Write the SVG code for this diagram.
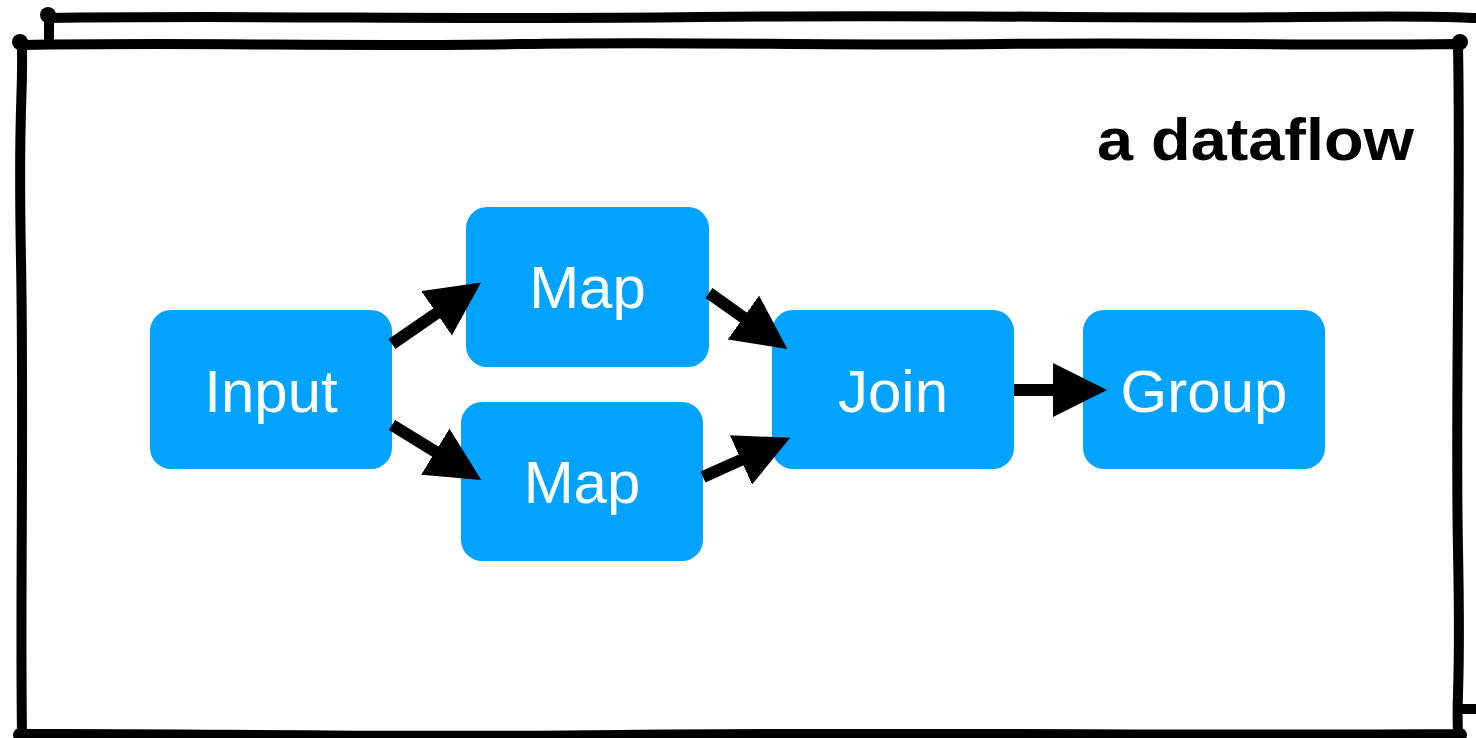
<svg xmlns="http://www.w3.org/2000/svg" width="1476" height="738" viewBox="0 0 1476 738">
  <style>
    .frame { fill: #ffffff; stroke: #000000; stroke-width: 10; stroke-linejoin: round; stroke-linecap: round; }
    .blob { fill: #000000; }
    .node rect { fill: #02a2ff; }
    .node text { fill: #ffffff; font-family: "Liberation Sans", Arial, Helvetica, sans-serif; font-size: 60px; text-anchor: middle; }
    .title { fill: #000000; font-family: "Liberation Sans", Arial, Helvetica, sans-serif; font-size: 60px; font-weight: bold; text-anchor: end; }
    .edge { stroke: #000000; stroke-width: 12; fill: none; marker-end: url(#head); }
  </style>
  <defs>
    <marker id="head" viewBox="0 0 54 54" markerWidth="54" markerHeight="54" refX="2" refY="27" orient="auto" markerUnits="userSpaceOnUse">
      <path d="M0,0 L54,27 L0,54 Z" fill="#000000"/>
    </marker>
  </defs>
  <rect width="1476" height="738" fill="#ffffff"/>

  <g id="frame">
    <path class="frame" d="M49,18 C 250,15 450,20 700,17 S 1100,19 1300,17 S 1450,19 1495,18 L1495,709 L49,709 Z"/>
    <circle class="blob" cx="48" cy="15" r="8"/>
    <path class="frame" d="M22,45 C 200,42 350,47 520,44 S 820,46 1000,44 S 1300,46 1458,44 C 1461,200 1455,400 1458,550 S 1456,690 1458,734 C 1200,736 900,732 620,735 S 200,733 22,734 C 20,600 24,420 21,260 S 23,110 22,45 Z"/>
    <circle class="blob" cx="20" cy="42" r="8"/>
    <circle class="blob" cx="1460" cy="42" r="8"/>
    <circle class="blob" cx="1460" cy="735" r="7"/>
    <circle class="blob" cx="20" cy="735" r="7"/>
  </g>

  <text class="title" x="1414" y="160" textLength="317" lengthAdjust="spacingAndGlyphs">a dataflow</text>

  <g id="node-input" class="node">
    <rect x="150" y="310" width="242" height="159" rx="21"/>
    <text x="271" y="412">Input</text>
  </g>
  <g id="node-map1" class="node">
    <rect x="466" y="207" width="243" height="160" rx="21"/>
    <text x="587.5" y="308">Map</text>
  </g>
  <g id="node-map2" class="node">
    <rect x="461" y="402" width="242" height="159" rx="21"/>
    <text x="582" y="503">Map</text>
  </g>
  <g id="node-join" class="node">
    <rect x="772" y="310" width="242" height="159" rx="21"/>
    <text x="893" y="412">Join</text>
  </g>
  <g id="node-group" class="node">
    <rect x="1083" y="310" width="242" height="159" rx="21"/>
    <text x="1204" y="412">Group</text>
  </g>

  <g id="connectors">
    <line class="edge" x1="392" y1="344" x2="438.2" y2="312.1"/>
    <line class="edge" x1="392" y1="425" x2="437" y2="452.7"/>
    <line class="edge" x1="709" y1="293" x2="745" y2="318.7"/>
    <line class="edge" x1="703" y1="477" x2="742.8" y2="459.1"/>
    <line class="edge" x1="1014" y1="390" x2="1055" y2="390"/>
  </g>
</svg>
